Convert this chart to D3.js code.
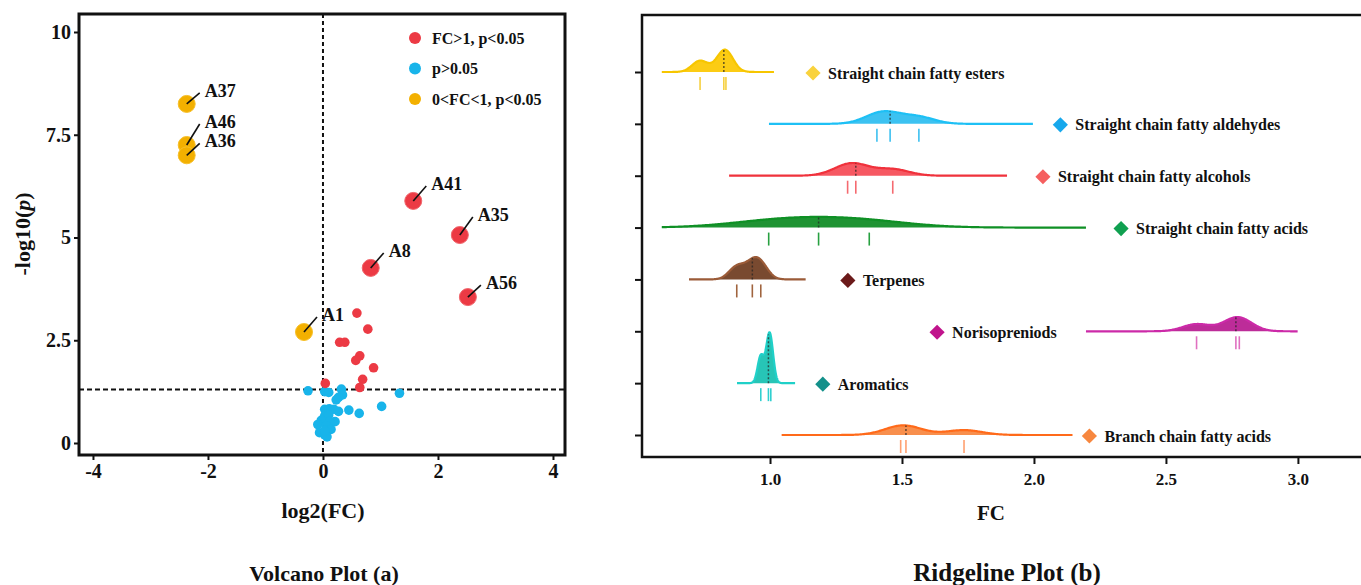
<!DOCTYPE html>
<html>
<head>
<meta charset="utf-8">
<script src="https://cdn.jsdelivr.net/npm/d3@7"></script>
<style>
	body { margin: 0; background: #fff; }
	text { font-family: "Liberation Serif", "Times New Roman", serif; font-weight: bold; fill: #111; }
</style>
</head>
<body>
<div id="chart"></div>
<script>

// ---- volcano plot data ----
var groupNames= ["FC>1, p<0.05", "p>0.05", "0<FC<1, p<0.05"];
var groupColors= ["#ec3a44", "#18b4ea", "#f3b000"];

var labelNames= ["A37", "A46", "A36", "A1", "A41", "A35", "A8", "A56"];
var labelFC= [-2.37, -2.37, -2.37, -0.33, 1.57, 2.38, 0.83, 2.52];
var labelP= [8.25, 7.25, 7.0, 2.7, 5.89, 5.06, 4.26, 3.55];
var labelGroup= [2, 2, 2, 2, 0, 0, 0, 0];

var redFC= [0.59, 0.78, 0.29, 0.38, 0.64, 0.57, 0.88, 0.69, 0.64, 0.04];
var redP= [3.16, 2.77, 2.45, 2.45, 2.12, 2.01, 1.83, 1.55, 1.35, 1.45];

var blueFC= [-0.26, 0.03, 0.1, 0.32, 0.34, 0.27, 0.23, 1.33, 1.02, 0.45, 0.63,
	0.03, 0.11, 0.19, 0.27, 0.03, 0.1, -0.03, 0.21, 0.12, -0.09, 0.06, 0.14, -0.06, 0.03, 0.07, 0.03];
var blueP= [1.27, 1.25, 1.23, 1.31, 1.17, 1.11, 1.05, 1.21, 0.89, 0.8, 0.72,
	0.82, 0.83, 0.82, 0.77, 0.66, 0.68, 0.55, 0.52, 0.52, 0.45, 0.42, 0.33, 0.25, 0.2, 0.15, 0.3];

var xTicksV= [-4, -2, 0, 2, 4];
var yTicksV= [0, 2.5, 5, 7.5, 10];
var pCut= 1.301;

// ---- ridgeline data ----
var ridgeNames= ["Straight chain fatty esters", "Straight chain fatty aldehydes", "Straight chain fatty alcohols",
	"Straight chain fatty acids", "Terpenes", "Norisopreniods", "Aromatics", "Branch chain fatty acids"];
var ridgeValues= [[0.735, 0.825, 0.833], [1.405, 1.455, 1.564], [1.294, 1.325, 1.465], [0.995, 1.184, 1.376],
	[0.874, 0.933, 0.965], [2.616, 2.765, 2.778], [0.965, 0.994, 1.003], [1.495, 1.515, 1.735]];
var ridgeBandwidth= [0.03, 0.06, 0.062, 0.18, 0.03, 0.052, 0.012, 0.068];
var ridgeRange= [[0.59, 1.015], [0.996, 1.996], [0.845, 1.898], [0.59, 2.197],
	[0.693, 1.135], [2.197, 2.999], [0.875, 1.095], [1.044, 2.146]];
var ridgePeak= [0.44, 0.25, 0.25, 0.21, 0.44, 0.28, 1.0, 0.19];
var ridgeLabelFC= [1.163, 2.1, 2.034, 2.33, 1.295, 1.633, 1.2, 2.21];
var xTicksR= [1.0, 1.5, 2.0, 2.5, 3.0];

var ridgeFill= ["#fcc800", "#2bbdf0", "#f54a55", "#0c8a22", "#6e3b1e", "#b71a90", "#15c0b0", "#f7853e"];
var ridgeLine= ["#f7c600", "#1ec0f5", "#f0323c", "#0f9025", "#9b5b38", "#cc2aa8", "#20d0c8", "#ff6a1a"];
var ridgeRug= ["#f6d040", "#3cc0f0", "#f56a70", "#27a040", "#a0643e", "#e070c0", "#30d0d0", "#ffa070"];
var ridgeMark= ["#f9d23c", "#17a8ec", "#f55f5f", "#10a050", "#6b1a1a", "#c0148c", "#13908a", "#f7873f"];


var svg= d3.select("#chart").append("svg")
	.attr("width", 1361)
	.attr("height", 585);


// ================= volcano =================
var xV= d3.scaleLinear().domain([-4.243, 4.209]).range([79, 565]);
var yV= d3.scaleLinear().domain([-0.292, 10.438]).range([455, 14]);

svg.append("g")
	.attr("transform", "translate(0,455)")
	.call(d3.axisBottom(xV).tickValues(xTicksV).tickSize(5).tickPadding(4).tickFormat(function(d) { return String(d); }))
	.call(styleAxis, 20);

svg.append("g")
	.attr("transform", "translate(79,0)")
	.call(d3.axisLeft(yV).tickValues(yTicksV).tickSize(5).tickPadding(3).tickFormat(function(d) { return String(d); }))
	.call(styleAxis, 20);

// dashed threshold lines
svg.append("line")
	.attr("x1", xV(0)).attr("x2", xV(0))
	.attr("y1", yV.range()[1]).attr("y2", yV.range()[0])
	.attr("stroke", "#111").attr("stroke-width", 2).attr("stroke-dasharray", "4,3");
svg.append("line")
	.attr("x1", xV.range()[0]).attr("x2", xV.range()[1])
	.attr("y1", yV(pCut)).attr("y2", yV(pCut))
	.attr("stroke", "#111").attr("stroke-width", 2).attr("stroke-dasharray", "5,3");

// small points
var small= [];
blueFC.forEach(function(v, i) { small.push({fc: v, p: blueP[i], g: 1}); });
redFC.forEach(function(v, i) { small.push({fc: v, p: redP[i], g: 0}); });

svg.append("g").selectAll("circle")
	.data(small)
	.enter().append("circle")
		.attr("cx", function(d) { return xV(d.fc); })
		.attr("cy", function(d) { return yV(d.p); })
		.attr("r", 4.8)
		.attr("fill", function(d) { return groupColors[d.g]; });

// labelled points
var nudge= {A46: -6, A36: 3, A37: 4, A35: -3, A56: 3};
var labelled= labelNames.map(function(n, i) {
	return {name: n, fc: labelFC[i], p: labelP[i], g: labelGroup[i]};
});

var lab= svg.append("g").selectAll("g")
	.data(labelled)
	.enter().append("g")
		.attr("transform", function(d) { return "translate(" + xV(d.fc) + "," + yV(d.p) + ")"; });

lab.append("circle")
	.attr("r", 8.5)
	.attr("fill", function(d) { return groupColors[d.g]; })
	.attr("stroke", function(d) { return d.g== 0 ? "#f0666c" : "#f7c02a"; })
	.attr("stroke-width", 1);

lab.append("line")
	.attr("x1", 0).attr("y1", 0)
	.attr("x2", 13)
	.attr("y2", function(d) { return -15+ (nudge[d.name] || 0); })
	.attr("stroke", "#111").attr("stroke-width", 1.6);

lab.append("text")
	.attr("x", 18)
	.attr("y", function(d) { return -11+ (nudge[d.name] || 0); })
	.style("font-size", "18px")
	.text(function(d) { return d.name; });

// legend
var leg= svg.append("g").selectAll("g")
	.data(groupNames)
	.enter().append("g")
		.attr("transform", function(d, i) { return "translate(415," + (38+ i* 30.5) + ")"; });
leg.append("circle").attr("r", 6).attr("fill", function(d, i) { return groupColors[i]; });
leg.append("text").attr("x", 17).attr("dy", "0.35em").style("font-size", "16px").text(function(d) { return d; });

svg.append("rect")
	.attr("x", 79).attr("y", 14).attr("width", 486).attr("height", 441)
	.attr("fill", "none").attr("stroke", "#111").attr("stroke-width", 3);

svg.append("text")
	.attr("x", 323).attr("y", 518)
	.style("font-size", "22px").style("text-anchor", "middle")
	.text("log2(FC)");

var yl= svg.append("text")
	.attr("transform", "translate(30,234) rotate(-90)")
	.style("font-size", "22px").style("text-anchor", "middle");
yl.append("tspan").text("-log10(");
yl.append("tspan").style("font-style", "italic").text("p");
yl.append("tspan").text(")");

svg.append("text")
	.attr("x", 324).attr("y", 581)
	.style("font-size", "22px").style("text-anchor", "middle")
	.text("Volcano Plot (a)");


// ================= ridgeline =================
var xR= d3.scaleLinear().domain([0.515, 3.239]).range([642, 1361]);
var yR= d3.scalePoint().domain(ridgeNames).range([72, 435]);
var hR= d3.scaleLinear().domain([0, 1]).range([0, yR.step()* 0.98]);

svg.append("g")
	.attr("transform", "translate(0,457)")
	.call(d3.axisBottom(xR).tickValues(xTicksR).tickSize(7).tickPadding(9).tickFormat(d3.format(".1f")))
	.call(styleAxis, 17);

svg.append("g")
	.attr("transform", "translate(642,0)")
	.call(d3.axisLeft(yR).tickSize(7).tickFormat(""))
	.call(styleAxis, 12);

function kde(vals, bw, x) {
	var s= 0;
	vals.forEach(function(v) { var z= (x- v)/ bw; s+= Math.exp(-0.5* z* z); });
	return s/ (vals.length* bw* Math.sqrt(2* Math.PI));
}

ridgeNames.forEach(function(name, i) {
	var base= yR(name);
	var r= ridgeRange[i];
	var xs= d3.range(0, 301).map(function(k) { return r[0]+ (r[1]- r[0])* k/ 300; });
	var dens= xs.map(function(x) { return kde(ridgeValues[i], ridgeBandwidth[i], x); });
	var dmax= d3.max(dens);
	var pts= xs.map(function(x, k) { return [x, dens[k]/ dmax* ridgePeak[i]]; });

	var g= svg.append("g");

	g.append("path")
		.datum(pts)
		.attr("fill", ridgeFill[i])
		.attr("fill-opacity", 0.92)
		.attr("d", d3.area()
			.x(function(d) { return xR(d[0]); })
			.y0(base)
			.y1(function(d) { return base- hR(d[1]); }));

	g.append("path")
		.datum(pts)
		.attr("fill", "none")
		.attr("stroke", ridgeLine[i])
		.attr("stroke-width", 2.2)
		.attr("d", d3.line()
			.x(function(d) { return xR(d[0]); })
			.y(function(d) { return base- hR(d[1]); }));

	// median dotted line
	var med= d3.median(ridgeValues[i]);
	var hm= kde(ridgeValues[i], ridgeBandwidth[i], med)/ dmax* ridgePeak[i];
	g.append("line")
		.attr("x1", xR(med)).attr("x2", xR(med))
		.attr("y1", base).attr("y2", base- hR(hm))
		.attr("stroke", "#222").attr("stroke-opacity", 0.7)
		.attr("stroke-width", 1.5).attr("stroke-dasharray", "2,2");

	// rug
	g.selectAll(".rug")
		.data(ridgeValues[i])
		.enter().append("line")
			.attr("x1", function(d) { return xR(d); })
			.attr("x2", function(d) { return xR(d); })
			.attr("y1", base+ 5).attr("y2", base+ 18)
			.attr("stroke", ridgeRug[i]).attr("stroke-width", 1.6);

	// label with diamond
	var lx= xR(ridgeLabelFC[i]);
	g.append("path")
		.attr("d", d3.symbol().type(d3.symbolSquare).size(115))
		.attr("transform", "translate(" + lx + "," + (base+ 1) + ") rotate(45)")
		.attr("fill", ridgeMark[i]);
	g.append("text")
		.attr("x", lx+ 15).attr("y", base+ 1)
		.attr("dy", "0.35em")
		.style("font-size", "16px")
		.text(name);
});

// frame (left, top, bottom)
svg.append("path")
	.attr("d", "M1361,15H642V457H1361")
	.attr("fill", "none").attr("stroke", "#111").attr("stroke-width", 2.5);

svg.append("text")
	.attr("x", 991).attr("y", 520)
	.style("font-size", "21px").style("text-anchor", "middle")
	.text("FC");

svg.append("text")
	.attr("x", 1007).attr("y", 581)
	.style("font-size", "25px").style("text-anchor", "middle")
	.text("Ridgeline Plot (b)");


function styleAxis(sel, fs) {
	sel.select(".domain").remove();
	sel.selectAll(".tick line").attr("stroke", "#111").attr("stroke-width", 2);
	sel.selectAll(".tick text")
		.style("font-size", fs+ "px")
		.style("font-family", "'Liberation Serif', 'Times New Roman', serif")
		.style("font-weight", "bold")
		.attr("fill", "#111");
}

</script>
</body>
</html>
